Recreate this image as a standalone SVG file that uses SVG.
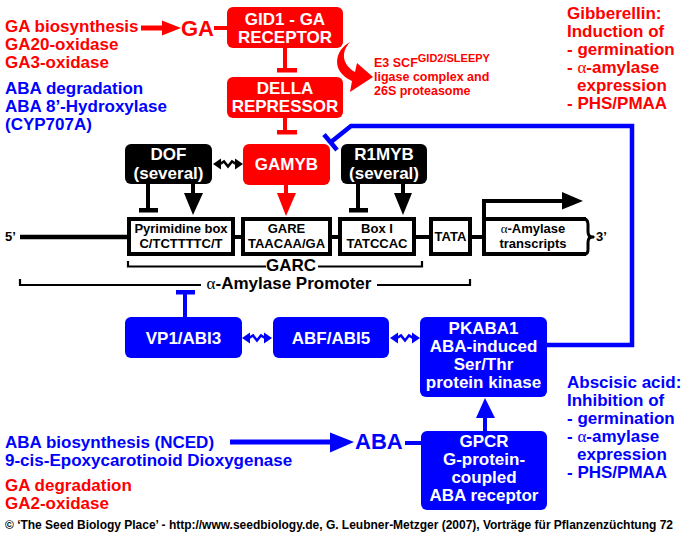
<svg xmlns="http://www.w3.org/2000/svg" xmlns:xlink="http://www.w3.org/1999/xlink" width="687" height="536" viewBox="0 0 687 536">
<style>
text{font-family:"Liberation Sans",Arial,sans-serif;font-weight:bold}
.side{font-size:17px}
.red{fill:#FF0000}
.blue{fill:#0000FF}
.blk{fill:#000}
.wt{fill:#fff;font-size:17px;text-anchor:middle}
.bt{fill:#000;font-size:13px;text-anchor:middle}
.rbox{fill:#FF0000}
.bbox{fill:#0000FF}
.kbox{fill:#000}
.pbox{fill:#fff;stroke:#000;stroke-width:4}
.sym{font-family:"Liberation Serif",serif;font-weight:normal}
</style>
<defs>
<g id="dbl">
<path d="M0,0 L8,-5.5 L8,5.5 Z M30,0 L22,-5.5 L22,5.5 Z" fill="currentColor"/>
<path d="M7,0 L11,-2.5 L15,2.5 L19,-2.5 L23,0" fill="none" stroke="currentColor" stroke-width="2.5"/>
</g>
</defs>
<rect width="687" height="536" fill="#fff"/>

<!-- connectors -->
<g id="connectors">
<line x1="141" y1="28" x2="164" y2="28" stroke="#FF0000" stroke-width="5"/>
<polygon points="162,20.5 181,28 162,35.5" fill="#FF0000"/>
<line x1="214" y1="28" x2="228" y2="28" stroke="#FF0000" stroke-width="4"/>
<line x1="285" y1="48" x2="285" y2="71" stroke="#FF0000" stroke-width="4"/>
<rect x="277" y="68" width="20" height="4.5" fill="#FF0000"/>
<line x1="285" y1="118" x2="285" y2="132" stroke="#FF0000" stroke-width="4"/>
<rect x="277" y="130" width="20" height="4.5" fill="#FF0000"/>
<path d="M350,42 C335,50 330,71 352,81 L350,92 L373,77 L357,63 L355,72 C343,65 340,53 350,42 Z" fill="#FF0000"/>
<line x1="286" y1="185" x2="286" y2="195" stroke="#FF0000" stroke-width="4"/>
<polygon points="277,193 296,193 286,216" fill="#FF0000"/>
<line x1="148" y1="184" x2="148" y2="210" stroke="#000" stroke-width="4"/>
<rect x="139" y="208" width="19" height="4.5" fill="#000"/>
<line x1="193" y1="184" x2="193" y2="195" stroke="#000" stroke-width="4"/>
<polygon points="184,193 203,193 193,215" fill="#000"/>
<line x1="358" y1="184" x2="358" y2="210" stroke="#000" stroke-width="4"/>
<rect x="349" y="208" width="19" height="4.5" fill="#000"/>
<line x1="403" y1="184" x2="403" y2="195" stroke="#000" stroke-width="4"/>
<polygon points="394,193 412,193 403,215" fill="#000"/>
<use xlink:href="#dbl" href="#dbl" x="213" y="164" color="#000"/>
<line x1="20" y1="237" x2="129" y2="237" stroke="#000" stroke-width="4.5"/>
<line x1="233" y1="237" x2="243" y2="237" stroke="#000" stroke-width="4"/>
<line x1="330" y1="237" x2="340" y2="237" stroke="#000" stroke-width="4"/>
<line x1="414" y1="237" x2="431" y2="237" stroke="#000" stroke-width="4"/>
<line x1="470" y1="237" x2="484" y2="237" stroke="#000" stroke-width="4"/>
<line x1="588" y1="237" x2="594" y2="237" stroke="#000" stroke-width="3"/>
<path d="M484,219 L484,201 L565,201" fill="none" stroke="#000" stroke-width="4"/>
<polygon points="562,192 583,201 562,209.5" fill="#000"/>
<path d="M128,261 L128,266.5 L266,266.5 M318,266.5 L422,266.5 L422,261" fill="none" stroke="#000" stroke-width="2.2"/>
<path d="M20,279 L20,285 L201,285 M377,285 L470,285 L470,279" fill="none" stroke="#000" stroke-width="2.2"/>
<line x1="185" y1="293" x2="185" y2="317" stroke="#0000FF" stroke-width="4"/>
<rect x="176" y="290" width="19" height="4.5" fill="#0000FF"/>
<use xlink:href="#dbl" href="#dbl" x="242" y="338" color="#0000FF"/>
<use xlink:href="#dbl" href="#dbl" x="390" y="338" color="#0000FF"/>
<path d="M547,345 L632,345 L632,126 L351,126 L331,142" fill="none" stroke="#0000FF" stroke-width="4.5"/>
<line x1="324" y1="134.5" x2="337" y2="150" stroke="#0000FF" stroke-width="4.5"/>
<line x1="485" y1="431" x2="485" y2="415" stroke="#0000FF" stroke-width="4"/>
<polygon points="476,418 495,418 485,398" fill="#0000FF"/>
<line x1="230" y1="442" x2="332" y2="442" stroke="#0000FF" stroke-width="5"/>
<polygon points="330,432.5 354,442 330,452.5" fill="#0000FF"/>
<line x1="405" y1="443" x2="421" y2="443" stroke="#0000FF" stroke-width="4"/>
</g>

<!-- nodes -->
<g id="gid1">
<rect class="rbox" x="227" y="7" width="116" height="41" rx="6"/>
<text class="wt" x="285" y="25">GID1 - GA</text>
<text class="wt" x="285" y="43">RECEPTOR</text>
</g>
<g id="della">
<rect class="rbox" x="227" y="77" width="116" height="41" rx="6"/>
<text class="wt" x="285" y="94">DELLA</text>
<text class="wt" x="285" y="112">REPRESSOR</text>
</g>
<g id="gamyb">
<rect class="rbox" x="243" y="144" width="87" height="41" rx="6"/>
<text class="wt" x="286.5" y="170">GAMYB</text>
</g>
<g id="dof">
<rect class="kbox" x="125" y="144" width="87" height="40" rx="6"/>
<text class="wt" x="168.5" y="160">DOF</text>
<text class="wt" x="168.5" y="179">(several)</text>
</g>
<g id="r1myb">
<rect class="kbox" x="341" y="144" width="86" height="40" rx="6"/>
<text class="wt" x="384" y="160">R1MYB</text>
<text class="wt" x="384" y="179">(several)</text>
</g>
<g id="pyrimidine">
<rect class="pbox" x="129" y="219" width="104" height="35"/>
<text class="bt" x="181" y="233">Pyrimidine box</text>
<text class="bt" x="181" y="248">C/TCTTTTC/T</text>
</g>
<g id="gare">
<rect class="pbox" x="243" y="219" width="87" height="35"/>
<text class="bt" x="286.5" y="233">GARE</text>
<text class="bt" x="286.5" y="248">TAACAA/GA</text>
</g>
<g id="box1">
<rect class="pbox" x="340" y="219" width="74" height="35"/>
<text class="bt" x="377" y="233">Box I</text>
<text class="bt" x="377" y="248">TATCCAC</text>
</g>
<g id="tata">
<rect class="pbox" x="431" y="219" width="39" height="35"/>
<text class="bt" x="450.5" y="241">TATA</text>
</g>
<g id="transcripts">
<path d="M586,219 L484,219 L484,254 L586,254" fill="#fff" stroke="#000" stroke-width="4"/>
<path d="M585,219 Q588,220 588,225 L588,231 Q588,236 591,237 Q588,238 588,243 L588,249 Q588,254 585,254" fill="none" stroke="#000" stroke-width="3"/>
<text class="bt" x="533" y="233"><tspan class="sym">α</tspan>-Amylase</text>
<text class="bt" x="533" y="248">transcripts</text>
</g>
<g id="vp1">
<rect class="bbox" x="125" y="317" width="117" height="41" rx="6"/>
<text class="wt" x="183.5" y="344">VP1/ABI3</text>
</g>
<g id="abf">
<rect class="bbox" x="273" y="317" width="116" height="41" rx="6"/>
<text class="wt" x="331" y="344">ABF/ABI5</text>
</g>
<g id="pkaba1">
<rect class="bbox" x="420" y="317" width="127" height="80" rx="6"/>
<text class="wt" x="483.5" y="334">PKABA1</text>
<text class="wt" x="483.5" y="352">ABA-induced</text>
<text class="wt" x="483.5" y="370">Ser/Thr</text>
<text class="wt" x="483.5" y="388">protein kinase</text>
</g>
<g id="gpcr">
<rect class="bbox" x="421" y="431" width="126" height="79" rx="6"/>
<text class="wt" x="484" y="447">GPCR</text>
<text class="wt" x="484" y="465">G-protein-</text>
<text class="wt" x="484" y="483">coupled</text>
<text class="wt" x="484" y="501">ABA receptor</text>
</g>

<!-- labels -->
<g id="labels">
<text class="side red" x="5" y="32">GA biosynthesis</text>
<text class="side red" x="5" y="50">GA20-oxidase</text>
<text class="side red" x="5" y="68">GA3-oxidase</text>
<text class="red" x="181" y="36" font-size="22">GA</text>
<text class="side blue" x="5" y="94">ABA degradation</text>
<text class="side blue" x="5" y="112">ABA 8’-Hydroxylase</text>
<text class="side blue" x="5" y="130">(CYP707A)</text>
<text class="red" x="374" y="67" font-size="12.5">E3 SCF<tspan font-size="11" dy="-5">GID2/SLEEPY</tspan></text>
<text class="red" x="374" y="81" font-size="12.5">ligase complex and</text>
<text class="red" x="374" y="95" font-size="12.5">26S proteasome</text>
<text class="side red" x="567" y="19">Gibberellin:</text>
<text class="side red" x="567" y="37">Induction of</text>
<text class="side red" x="567" y="55">- germination</text>
<text class="side red" x="567" y="73">- <tspan class="sym">α</tspan>-amylase</text>
<text class="side red" x="577" y="91">expression</text>
<text class="side red" x="567" y="109">- PHS/PMAA</text>
<text class="blk" x="5" y="241" font-size="13">5’</text>
<text class="blk" x="596" y="241" font-size="13">3’</text>
<text class="blk" x="291" y="271" font-size="17" text-anchor="middle">GARC</text>
<text class="blk" x="289" y="289" font-size="17" text-anchor="middle"><tspan class="sym">α</tspan>-Amylase Promoter</text>
<text class="side blue" x="567" y="388">Abscisic acid:</text>
<text class="side blue" x="567" y="406">Inhibition of</text>
<text class="side blue" x="567" y="424">- germination</text>
<text class="side blue" x="567" y="442">- <tspan class="sym">α</tspan>-amylase</text>
<text class="side blue" x="577" y="460">expression</text>
<text class="side blue" x="567" y="478">- PHS/PMAA</text>
<text class="blue" x="355" y="449" font-size="22">ABA</text>
<text class="side blue" x="5" y="448">ABA biosynthesis (NCED)</text>
<text class="side blue" x="5" y="466">9-cis-Epoxycarotinoid Dioxygenase</text>
<text class="side red" x="5" y="491">GA degradation</text>
<text class="side red" x="5" y="509">GA2-oxidase</text>
<text class="blk" x="5" y="529" font-size="12" textLength="668" lengthAdjust="spacing">© ‘The Seed Biology Place’ - http://www.seedbiology.de, G. Leubner-Metzger (2007), Vorträge für Pflanzenzüchtung 72</text>
</g>
</svg>
